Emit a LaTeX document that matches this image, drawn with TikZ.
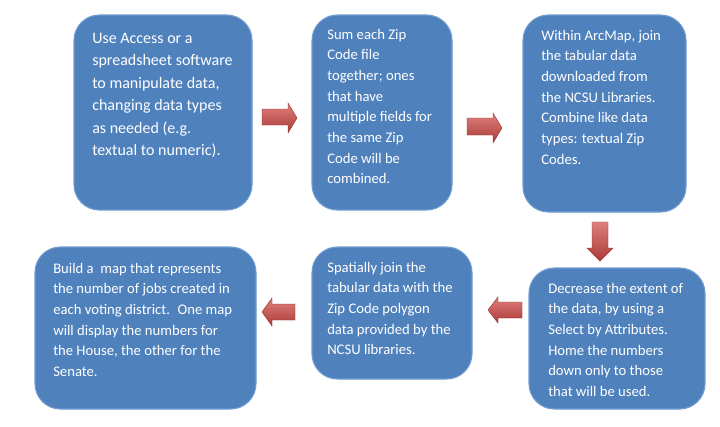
\documentclass[tikz,border=0pt]{standalone}
\usepackage{fontspec}
\setmainfont{Carlito}
\usetikzlibrary{fit}
\definecolor{boxblue}{RGB}{79,129,189}
\definecolor{boxedge}{RGB}{112,156,208}
\definecolor{arrlight}{RGB}{222,128,126}
\definecolor{arrdark}{RGB}{172,58,55}
\definecolor{arredge}{RGB}{150,45,43}
\begin{document}
\begin{tikzpicture}[x=0.75pt,y=-0.75pt,
  box/.style={fill=boxblue, draw=boxedge, line width=0.8pt, rounded corners=19pt, inner sep=0pt},
  txt/.style={anchor=north west, inner sep=0pt, text=white, align=left, font=\fontsize{11}{15.5}\selectfont},
  bigtxt/.style={txt, font=\fontsize{12}{16.85}\selectfont},
  blockarrow/.style={top color=arrlight, bottom color=arrdark, draw=arredge, line width=0.3pt}]
\useasboundingbox (0,0) rectangle (720,426);
\fill[white] (0,0) rectangle (720,426);
% boxes
\node[box, fit={(74,15) (252,210)}] (b1) {};
\node[box, fit={(312,15) (452,210)}] (b2) {};
\node[box, fit={(523,15) (686,212)}] (b3) {};
\node[box, fit={(35,247) (256,409)}] (b4) {};
\node[box, fit={(312,247) (472,379)}] (b5) {};
\node[box, fit={(529,268) (705,409)}] (b6) {};
% texts
\node[bigtxt] (t1) at (92,29.7) {\rule{0pt}{10pt}Use Access or a\\spreadsheet software\\to manipulate data,\\changing data types\\as needed (e.g.\\textual to numeric).};
\node[txt] (t2) at (327,25.7) {\rule{0pt}{10pt}Sum each Zip\\Code file\\together; ones\\that have\\multiple fields for\\the same Zip\\Code will be\\combined.};
\node[txt] (t3) at (541,26.7) {\rule{0pt}{10pt}Within ArcMap, join\\the tabular data\\downloaded from\\the NCSU Libraries.\\Combine like data\\types: textual Zip\\Codes.};
\node[txt] (t4) at (53,259.7) {\rule{0pt}{10pt}Build a~ map that represents\\the number of jobs created in\\each voting district.~ One map\\will display the numbers for\\the House, the other for the\\Senate.};
\node[txt] (t5) at (327,258.7) {\rule{0pt}{10pt}Spatially join the\\tabular data with the\\Zip Code polygon\\data provided by the\\NCSU libraries.};
\node[txt] (t6) at (548,279.7) {\rule{0pt}{10pt}Decrease the extent of\\the data, by using a\\Select by Attributes.\\Home the numbers\\down only to those\\that will be used.};
% block arrows
\path[blockarrow] (262,109) -- (288,109) -- (288,103) -- (297,118) -- (288,133) -- (288,125) -- (262,125) -- cycle;
\path[blockarrow] (467,118) -- (493,118) -- (493,113) -- (502,128) -- (493,143) -- (493,135) -- (467,135) -- cycle;
\path[blockarrow] (592,222) -- (608,222) -- (608,248) -- (613,248) -- (600,261) -- (587,248) -- (592,248) -- cycle;
\path[blockarrow] (522,302) -- (498,302) -- (498,297) -- (488,310) -- (498,323) -- (498,318) -- (522,318) -- cycle;
\path[blockarrow] (295,304) -- (272,304) -- (272,298) -- (262,312) -- (272,326) -- (272,320) -- (295,320) -- cycle;
\end{tikzpicture}
\end{document}
